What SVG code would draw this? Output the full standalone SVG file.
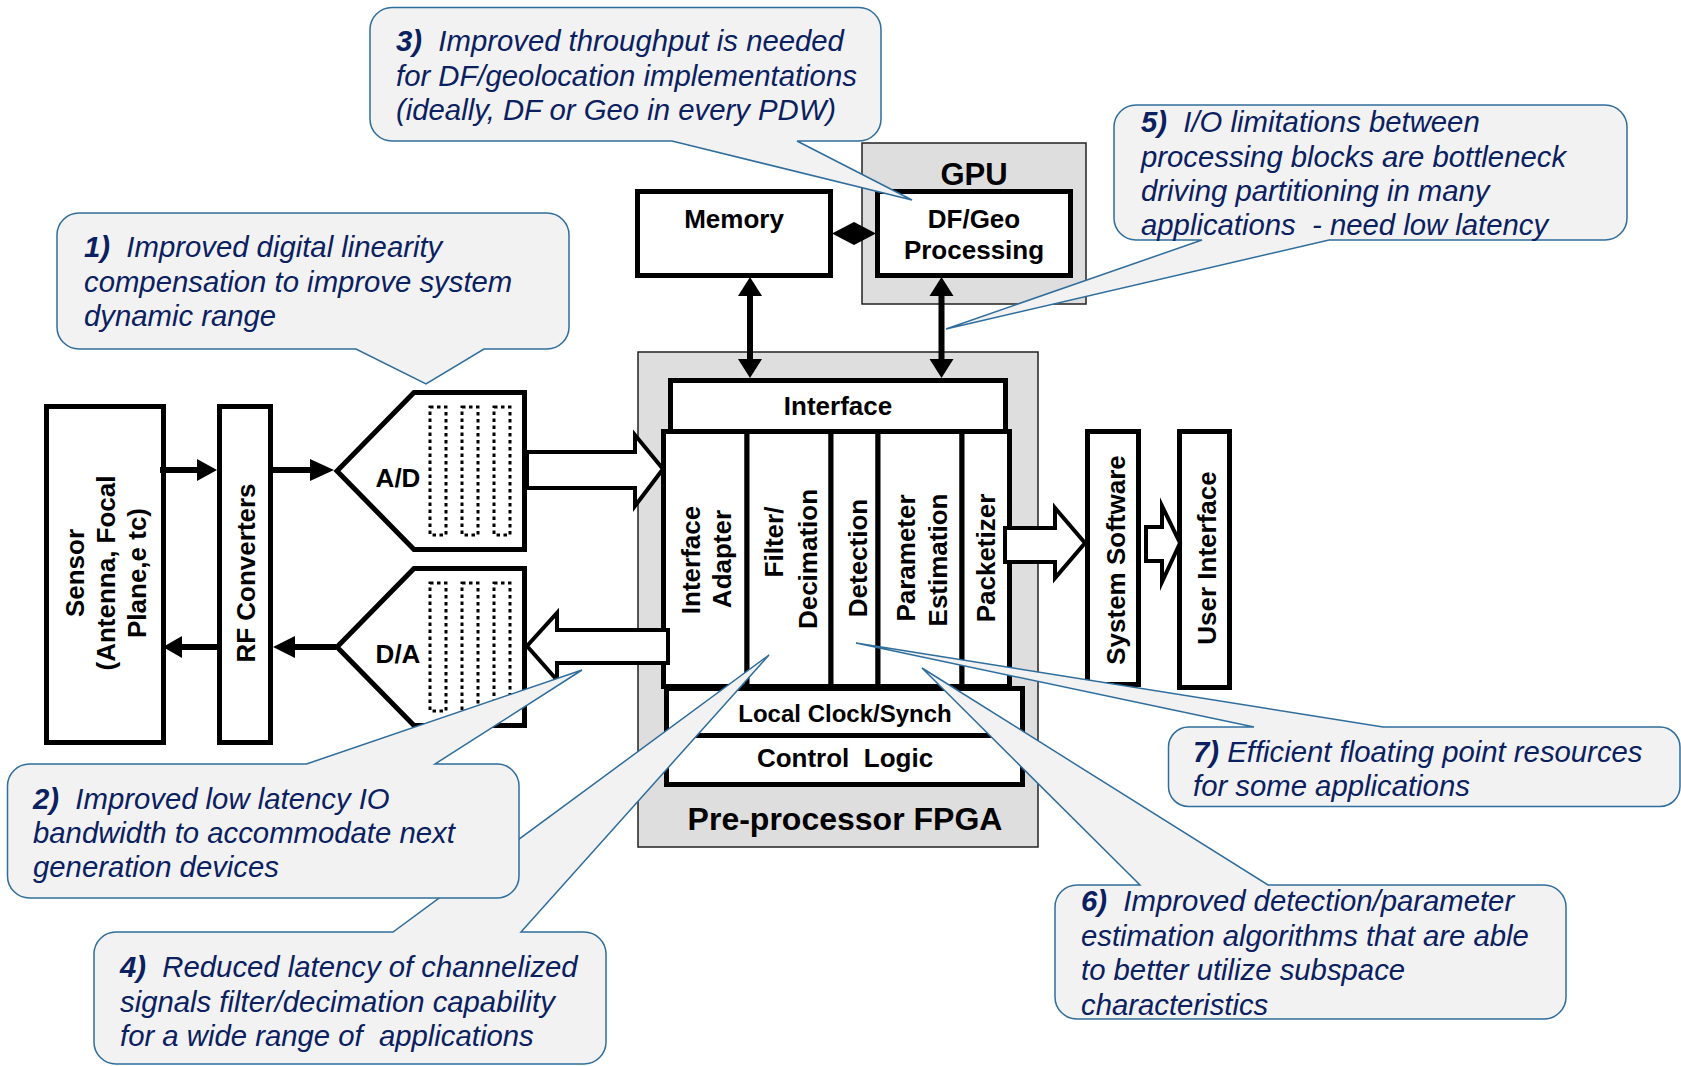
<svg xmlns="http://www.w3.org/2000/svg" width="1681" height="1066" viewBox="0 0 1681 1066">
<style>
.box{fill:#fff;stroke:#000;stroke-width:5}
.grp{fill:#dedede;stroke:#222;stroke-width:1.5}
.lbl{font-family:"Liberation Sans",Arial,sans-serif;font-weight:bold;font-size:26px;fill:#000;text-anchor:middle}
.dot{fill:none;stroke:#000;stroke-width:3;stroke-dasharray:3.5 3.5;stroke-linecap:butt}
.hol{fill:#fff;stroke:#000;stroke-width:4;stroke-miterlimit:10}
.ln{stroke:#000;stroke-width:6;fill:none}
.hd{fill:#000}
.co{fill:#f2f2f2;stroke:#2f6d9c;stroke-width:1.5}
.ct{font-family:"Liberation Sans",Arial,sans-serif;font-style:italic;font-size:29.3px;fill:#0a2060}
.b{font-weight:bold}
</style>
<rect width="1681" height="1066" fill="#fff"/>

<g id="gpu"><rect class="grp" x="862" y="143" width="224" height="161"/><text class="lbl" x="974" y="185" style="font-size:31px">GPU</text></g>
<g id="fpga"><rect class="grp" x="638" y="352" width="400" height="495"/><text class="lbl" x="845" y="830" style="font-size:32px">Pre-processor FPGA</text></g>

<g id="sensor"><rect class="box" x="46.5" y="406.5" width="117" height="336"/>
<text class="lbl" transform="translate(84,573) rotate(-90)">Sensor</text>
<text class="lbl" transform="translate(115,573) rotate(-90)">(Antenna, Focal</text>
<text class="lbl" transform="translate(146,573) rotate(-90)">Plane,e tc)</text></g>
<g id="rf"><rect class="box" x="219.5" y="406.5" width="51" height="336"/><text class="lbl" transform="translate(255,573) rotate(-90)">RF Converters</text></g>

<g id="ad"><polygon class="box" points="337,471 414,392.5 524.5,392.5 524.5,549.5 414,549.5"/>
<rect class="dot" x="430" y="407" width="16" height="128"/><rect class="dot" x="462" y="407" width="16" height="128"/><rect class="dot" x="494" y="407" width="16" height="128"/>
<text class="lbl" x="398" y="487">A/D</text></g>
<g id="da"><polygon class="box" points="337,647 414,568.5 524.5,568.5 524.5,725.5 414,725.5"/>
<rect class="dot" x="430" y="583" width="16" height="128"/><rect class="dot" x="462" y="583" width="16" height="128"/><rect class="dot" x="494" y="583" width="16" height="128"/>
<text class="lbl" x="398" y="663">D/A</text></g>

<g id="memory"><rect class="box" x="637.5" y="191.5" width="193" height="84"/><text class="lbl" x="734" y="228">Memory</text></g>
<g id="dfgeo"><rect class="box" x="877.5" y="191.5" width="193" height="84"/><text class="lbl" x="974" y="228">DF/Geo</text><text class="lbl" x="974" y="259">Processing</text></g>

<g id="interface"><rect class="box" x="670.5" y="380.5" width="335" height="51"/><text class="lbl" x="838" y="415">Interface</text></g>
<g id="adapter"><rect class="box" x="663.5" y="431.5" width="83.5" height="255"/>
<text class="lbl" transform="translate(700,560) rotate(-90)">Interface</text><text class="lbl" transform="translate(731,559) rotate(-90)">Adapter</text></g>
<g id="filter"><rect class="box" x="747" y="431.5" width="84" height="255"/>
<text class="lbl" transform="translate(783,542) rotate(-90)">Filter/</text><text class="lbl" transform="translate(817,559) rotate(-90)">Decimation</text></g>
<g id="detection"><rect class="box" x="831" y="431.5" width="47" height="255"/><text class="lbl" transform="translate(867,558) rotate(-90)">Detection</text></g>
<g id="param"><rect class="box" x="878" y="431.5" width="84" height="255"/>
<text class="lbl" transform="translate(915,558) rotate(-90)">Parameter</text><text class="lbl" transform="translate(947,560) rotate(-90)">Estimation</text></g>
<g id="packetizer"><rect class="box" x="962" y="431.5" width="47.5" height="255"/><text class="lbl" transform="translate(995,558) rotate(-90)">Packetizer</text></g>
<g id="clock"><rect class="box" x="666.5" y="688.5" width="356" height="47"/><text class="lbl" x="845" y="722" style="font-size:24px">Local Clock/Synch</text></g>
<g id="control"><rect class="box" x="666.5" y="735.5" width="356" height="49"/><text class="lbl" x="845" y="767" xml:space="preserve">Control  Logic</text></g>

<g id="syssw"><rect class="box" x="1087.5" y="431.5" width="51" height="253"/><text class="lbl" transform="translate(1125,560) rotate(-90)">System Software</text></g>
<g id="ui"><rect class="box" x="1179.5" y="431.5" width="50" height="256"/><text class="lbl" transform="translate(1216,558) rotate(-90)">User Interface</text></g>

<g id="connectors">
<line class="ln" x1="160" y1="470" x2="200" y2="470"/><polygon class="hd" points="217,470 197,459 197,481"/>
<line class="ln" x1="273" y1="470" x2="313" y2="470"/><polygon class="hd" points="334,470 310,459 310,481"/>
<line class="ln" x1="336" y1="647" x2="292" y2="647"/><polygon class="hd" points="273,647 295,636 295,658"/>
<line class="ln" x1="219" y1="647" x2="178" y2="647"/><polygon class="hd" points="163,647 182,636 182,658"/>
<polygon class="hol" points="527,452 635,452 635,435 663,469 635,506 635,488 527,488"/>
<polygon class="hol" points="668,630 557,630 557,613 527,646 557,680 557,663 668,663"/>
<polygon class="hol" points="1005,528 1055,528 1055,508 1085,543 1055,578 1055,562 1005,562"/>
<polygon class="hol" points="1146,527 1162,527 1162,506 1180,543 1162,582 1162,561 1146,561"/>
<line class="ln" x1="750" y1="292" x2="750" y2="362"/><polygon class="hd" points="750,277 738,296 762,296"/><polygon class="hd" points="750,378 738,359 762,359"/>
<line class="ln" x1="941.5" y1="292" x2="941.5" y2="362"/><polygon class="hd" points="941.5,277 929.5,296 953.5,296"/><polygon class="hd" points="941.5,378 929.5,359 953.5,359"/>
<polygon class="hd" points="832,233.5 854,222 876,233.5 854,245"/>
</g>

<g id="callout1"><path class="co" d="M79,213 H547 A22,22 0 0 1 569,235 V327 A22,22 0 0 1 547,349 H484 L426,384 L356,349 H79 A22,22 0 0 1 57,327 V235 A22,22 0 0 1 79,213 Z"/>
<text class="ct" x="84" y="257" xml:space="preserve"><tspan class="b">1)</tspan>  Improved digital linearity</text>
<text class="ct" x="84" y="292">compensation to improve system</text>
<text class="ct" x="84" y="326">dynamic range</text></g>

<g id="callout3"><path class="co" d="M392,7.5 H859 A22,22 0 0 1 881,29.5 V119 A22,22 0 0 1 859,141 H797 L912,200 L672,141 H392 A22,22 0 0 1 370,119 V29.5 A22,22 0 0 1 392,7.5 Z"/>
<text class="ct" x="396" y="51" xml:space="preserve"><tspan class="b">3)</tspan>  Improved throughput is needed</text>
<text class="ct" x="396" y="86">for DF/geolocation implementations</text>
<text class="ct" x="396" y="120">(ideally, DF or Geo in every PDW)</text></g>

<g id="callout5"><path class="co" d="M1136,105 H1605 A22,22 0 0 1 1627,127 V218 A22,22 0 0 1 1605,240 H1329 L946,329 L1202,240 H1136 A22,22 0 0 1 1114,218 V127 A22,22 0 0 1 1136,105 Z"/>
<text class="ct" x="1141" y="132" xml:space="preserve"><tspan class="b">5)</tspan>  I/O limitations between</text>
<text class="ct" x="1141" y="167">processing blocks are bottleneck</text>
<text class="ct" x="1141" y="201">driving partitioning in many</text>
<text class="ct" x="1141" y="235" xml:space="preserve">applications  - need low latency</text></g>

<g id="callout4"><path class="co" d="M116,932 H393 L769,655 L521,932 H584 A22,22 0 0 1 606,954 V1042 A22,22 0 0 1 584,1064 H116 A22,22 0 0 1 94,1042 V954 A22,22 0 0 1 116,932 Z"/>
<text class="ct" x="120" y="977" xml:space="preserve"><tspan class="b">4)</tspan>  Reduced latency of channelized</text>
<text class="ct" x="120" y="1012">signals filter/decimation capability</text>
<text class="ct" x="120" y="1046" xml:space="preserve">for a wide range of  applications</text></g>

<g id="callout2"><path class="co" d="M29.5,764 H306.5 L582,670 L435,764 H497 A22,22 0 0 1 519,786 V876 A22,22 0 0 1 497,898 H29.5 A22,22 0 0 1 7.5,876 V786 A22,22 0 0 1 29.5,764 Z"/>
<text class="ct" x="33" y="809" xml:space="preserve"><tspan class="b">2)</tspan>  Improved low latency IO</text>
<text class="ct" x="33" y="843">bandwidth to accommodate next</text>
<text class="ct" x="33" y="877">generation devices</text></g>

<g id="callout6"><path class="co" d="M1077,885 H1140 L922,668 L1268,885 H1544 A22,22 0 0 1 1566,907 V997 A22,22 0 0 1 1544,1019 H1077 A22,22 0 0 1 1055,997 V907 A22,22 0 0 1 1077,885 Z"/>
<text class="ct" x="1081" y="911" xml:space="preserve"><tspan class="b">6)</tspan>  Improved detection/parameter</text>
<text class="ct" x="1081" y="946">estimation algorithms that are able</text>
<text class="ct" x="1081" y="980">to better utilize subspace</text>
<text class="ct" x="1081" y="1015">characteristics</text></g>

<g id="callout7"><path class="co" d="M1188.5,727 H1254 L856,643 L1383,727 H1660 A20,20 0 0 1 1680,747 V786.5 A20,20 0 0 1 1660,806.5 H1188.5 A20,20 0 0 1 1168.5,786.5 V747 A20,20 0 0 1 1188.5,727 Z"/>
<text class="ct" x="1193" y="762" xml:space="preserve"><tspan class="b">7)</tspan> Efficient floating point resources</text>
<text class="ct" x="1193" y="796">for some applications</text></g>
</svg>
